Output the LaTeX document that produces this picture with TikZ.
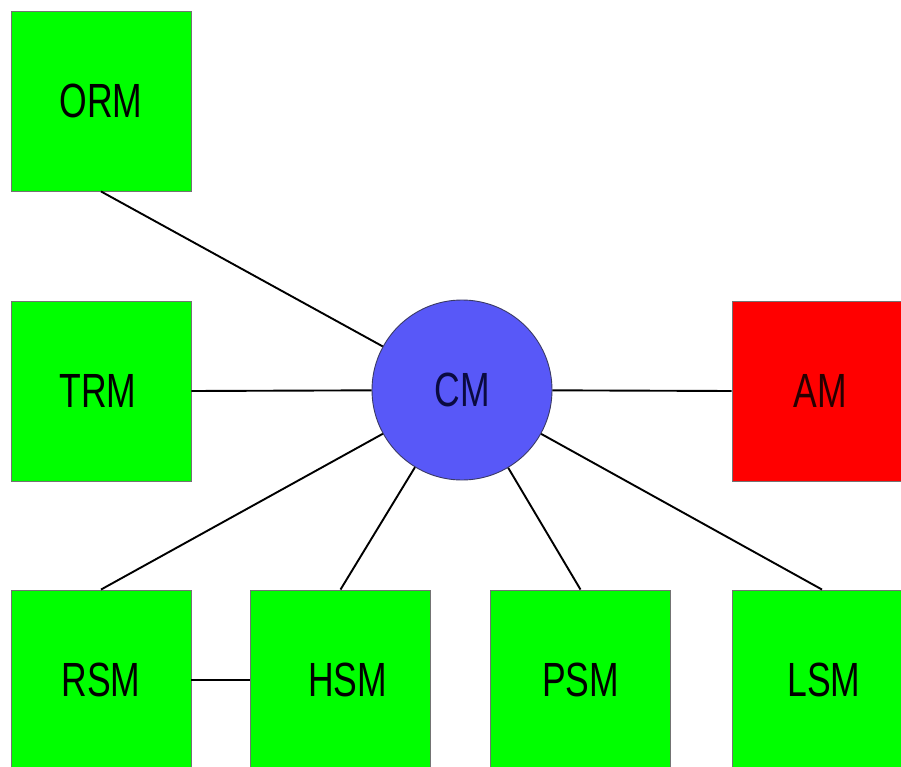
\documentclass[tikz,border=0pt]{standalone}
\usepackage{fontspec}
\setmainfont{Liberation Sans}
\usepackage{graphicx}
\definecolor{boxgreen}{HTML}{00FF00}
\definecolor{boxred}{HTML}{FF0000}
\definecolor{cmblue}{HTML}{5858F8}
\definecolor{cmtext}{HTML}{0A0A40}
\newcommand{\lbl}[1]{\scalebox{0.74}[1]{#1}}
\tikzset{
  mod/.style={draw=black!55, line width=0.9pt, fill=boxgreen, minimum width=180pt, minimum height=180pt, inner sep=0pt, font=\fontsize{48pt}{48pt}\selectfont, text=black},
  alarm/.style={mod, fill=boxred, text=black!85!red},
  core/.style={circle, draw=cmtext!80, line width=0.9pt, fill=cmblue, minimum size=180pt, inner sep=0pt, font=\fontsize{48pt}{48pt}\selectfont, text=cmtext},
  link/.style={line width=1.9pt, black}
}
\begin{document}
\begin{tikzpicture}[x=1pt,y=-1pt]
\useasboundingbox (0,0) rectangle (901,767);
\clip (0,0) rectangle (901,767);
\fill[white] (0,0) rectangle (901,767);
\node[mod] (ORM) at (101,101) {\lbl{ORM}};
\node[mod] (TRM) at (101,391) {\lbl{TRM}\hspace*{6pt}};
\node[alarm] (AM) at (822,391) {\lbl{AM}\hspace*{4pt}};
\node[mod] (RSM) at (101,680) {\lbl{RSM}};
\node[mod] (HSM) at (340.5,680) {\hspace*{14pt}\lbl{HSM}};
\node[mod] (PSM) at (580.5,680) {\lbl{PSM}};
\node[mod] (LSM) at (822,680) {\hspace*{4pt}\lbl{LSM}};
\node[core] (CM) at (462,390) {\lbl{CM}};
\draw[link] (ORM.south) -- (CM);
\draw[link] (TRM.east) -- (CM);
\draw[link] (CM) -- (AM.west);
\draw[link] (RSM.north) -- (CM);
\draw[link] (HSM.north) -- (CM);
\draw[link] (PSM.north) -- (CM);
\draw[link] (LSM.north) -- (CM);
\draw[link] (RSM.east) -- (HSM.west);
\end{tikzpicture}
\end{document}
